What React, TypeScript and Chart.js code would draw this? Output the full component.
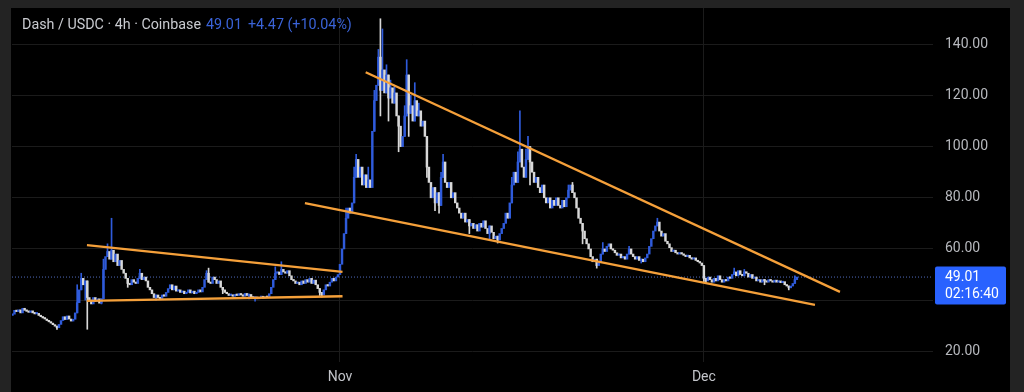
import React, { useEffect, useRef } from "react";
import { Chart, registerables } from "chart.js";

Chart.register(...registerables);

// ---- text ----
const symbolTitle = "Dash / USDC · 4h · Coinbase";
const lastPriceText = "49.01";
const changeText = "+4.47 (+10.04%)";
const countdownText = "02:16:40";
const lastPrice = 49.01;

// ---- time base: days counted from Oct 1 00:00 ----
const startDay = 4; // first 4h candle: Oct 5 00:00
const candlesPerDay = 6;
const firstOpen = 34.0;

// 4h closes, one row per day
const closes = [
  34.5, 36.0, 35.5, 36.2, 35.0, 36.8,
  36.0, 35.6, 35.2, 35.8, 35.0, 34.6,
  34.8, 34.0, 33.5, 33.0, 32.6, 32.0,
  31.5, 31.0, 30.4, 29.8, 29.2, 30.5,
  32.0, 33.5, 32.4, 33.8, 32.6, 31.8,
  32.5, 35.0, 39.0, 44.0, 48.5, 46.0,
  47.5, 41.0, 40.0, 38.5, 41.0, 39.5,
  40.5, 38.8, 40.5, 52.0, 57.0, 59.0,
  56.0, 59.5, 55.0, 58.0, 53.5, 55.5,
  52.0, 50.5, 48.5, 46.5, 46.0, 48.0,
  47.0, 46.5, 48.5, 50.5, 48.0, 49.0,
  47.5, 45.0, 44.0, 42.5, 41.0, 42.0,
  41.0, 40.5, 42.0, 41.5, 43.0, 44.5,
  46.0, 44.0, 45.5, 43.5, 44.0, 43.0,
  43.5, 42.5, 43.0, 44.0, 42.8, 43.5,
  42.5, 43.0, 44.0, 43.2, 45.0, 48.0,
  50.5, 47.0, 46.5, 49.0, 48.0, 46.5,
  47.5, 45.0, 44.0, 43.0, 42.5, 41.8,
  42.0, 41.5, 42.2, 41.8, 42.5, 42.0,
  41.5, 42.6, 41.8, 42.2, 41.0, 40.8,
  41.2, 40.5, 41.0, 41.5, 40.8, 41.2,
  41.0, 42.5, 45.0, 48.0, 50.5, 51.0,
  50.0, 52.0, 51.0, 50.5, 51.5, 49.5,
  48.0, 47.5, 46.5, 47.0, 46.0, 47.5,
  46.5, 48.0, 47.0, 48.5, 46.5, 47.8,
  46.0, 44.5, 43.0, 42.0, 44.0, 46.0,
  45.5, 47.0, 48.5, 47.5, 49.0, 50.0,
  54.0, 60.0, 66.0, 72.0, 76.0, 74.0,
  78.0, 88.0, 95.0, 88.0, 92.0, 85.0,
  89.0, 84.0, 87.0, 84.0, 106.0, 118.0,
  124.0, 135.0, 122.0, 130.0, 121.0, 128.0,
  119.0, 123.0, 117.0, 121.0, 112.0, 108.0,
  100.0, 104.0, 112.0, 128.0, 113.0, 116.0,
  110.0, 118.0, 112.0, 114.0, 108.0, 110.0,
  104.0, 92.0, 86.0, 80.0, 84.0, 78.0,
  82.0, 77.0, 88.0, 94.0, 86.0, 84.0,
  86.0, 80.0, 82.0, 78.0, 76.0, 74.0,
  72.0, 74.0, 70.5, 71.5, 69.0, 70.0,
  68.0, 69.5, 67.0, 70.0, 68.5, 71.0,
  68.0, 66.0, 69.0, 66.5, 64.0, 65.0,
  63.5, 66.0, 68.0, 70.0, 74.0, 72.0,
  78.0, 85.0, 90.0, 86.0, 94.0, 99.0,
  92.0, 88.0, 95.0, 100.0, 94.0, 90.0,
  86.0, 88.0, 84.0, 82.0, 85.0, 80.0,
  78.0, 80.0, 76.0, 79.0, 77.0, 80.0,
  77.0, 76.0, 79.0, 76.5, 80.0, 83.0,
  85.0, 82.0, 80.0, 76.0, 72.0, 70.0,
  67.0, 64.0, 62.0, 60.0, 57.0, 55.0,
  56.0, 53.5, 55.0, 58.0, 60.0, 59.0,
  61.0, 62.0, 60.0, 59.5, 58.5, 57.5,
  58.0, 56.5, 57.0, 56.0, 58.0, 60.0,
  58.0, 57.0, 56.0, 57.0, 55.5, 56.0,
  55.0, 56.5, 58.0, 61.0, 64.0, 67.0,
  69.0, 70.5, 67.0, 65.0, 66.0, 63.0,
  62.0, 60.5, 59.0, 59.5, 58.5, 58.0,
  58.5, 58.0, 57.5, 57.0, 57.5, 56.5,
  56.0, 56.5, 55.5, 55.0, 54.5, 53.5,
  48.5, 47.5, 49.0, 48.0, 47.0, 48.5,
  47.5, 49.5, 48.0, 47.0, 48.0, 47.5,
  49.0, 48.5, 50.0, 51.0, 49.5, 51.5,
  50.0, 49.5, 51.0, 50.5, 49.0, 50.0,
  48.5, 49.0, 47.5, 48.0, 47.0, 48.0,
  47.5, 47.0, 48.0, 47.5, 47.0, 47.8,
  47.0, 47.5, 46.8, 47.2, 46.0, 45.5,
  44.8, 45.5, 46.5, 48.0, 49.01,
];

// visible wick extremes: [candle index, price]
const spikeHighs: [number, number][] = [
  [32, 46], [34, 50.5], [45, 56], [47, 62], [49, 72], [63, 52], [96, 51.5],
  [97, 52.5], [130, 53], [133, 55], [165, 76], [169, 92], [170, 97], [176, 92],
  [179, 122], [181, 138], [182, 150], [183, 146], [185, 132], [187, 126], [189, 124],
  [194, 116], [195, 134], [197, 120], [199, 125], [201, 117], [212, 90], [213, 97],
  [247, 88], [250, 98], [251, 114], [254, 99], [255, 104], [275, 85], [277, 86],
  [292, 62.5], [305, 61], [319, 72], [357, 52.5], [362, 52], [387, 49.5],
];
const spikeLows: [number, number][] = [
  [22, 28.5], [36, 40], [37, 28.6], [44, 38.5], [57, 45], [71, 40], [104, 42.5],
  [117, 40.5], [120, 39.6], [152, 41.8], [153, 41.2], [182, 112], [186, 110],
  [191, 98], [196, 104], [205, 88], [209, 75], [211, 74], [226, 66], [236, 63.5],
  [240, 62.3], [256, 85], [282, 62], [289, 52.5], [290, 54], [311, 54.5],
  [342, 47], [343, 46.5], [372, 46], [384, 44.0],
];

// trend lines: [day, price] pairs
const rangeUpper = [[10.14, 61.5], [31.21, 51.0]];
const rangeLower = [[10.14, 39.7], [31.21, 41.5]];
const wedgeUpper = [[33.12, 129.1], [72.22, 43.2]];
const wedgeLower = [[28.11, 77.9], [70.16, 38.1]];

// axes
const priceTicks = [20, 40, 60, 80, 100, 120, 140];
const monthTickDays = [31, 61];
const monthTickLabels = ["Nov", "Dec"];
const xMin = 3.96;
const xMax = 79.89;
const yMin = 15.8;
const yMax = 154.2;

const UP = "#2f5bdb";
const DOWN = "#d8d8d8";
const ORANGE = "#f5a03a";
const FONT = "Roboto, 'Noto Sans', sans-serif";

export default function App() {
  const ref = useRef<HTMLCanvasElement>(null);

  useEffect(() => {
    const opens = closes.map((c, i) => (i === 0 ? firstOpen : closes[i - 1]));
    const dayOf = (i: number) => startDay + i / candlesPerDay;
    const up = closes.map((c, i) => c >= opens[i]);

    const bodies = closes.map((c, i) => ({ x: dayOf(i), y: [opens[i], c] }));
    const bodyColors = up.map((u) => (u ? UP : DOWN));

    const wickMap = new Map<number, [number, number]>();
    spikeHighs.forEach(([i, h]) => {
      const cur = wickMap.get(i);
      wickMap.set(i, [cur ? cur[0] : Math.min(opens[i], closes[i]), h]);
    });
    spikeLows.forEach(([i, l]) => {
      const cur = wickMap.get(i);
      wickMap.set(i, [l, cur ? cur[1] : Math.max(opens[i], closes[i])]);
    });
    const wickIdx = Array.from(wickMap.keys());
    const wicks = wickIdx.map((i) => ({ x: dayOf(i), y: wickMap.get(i) }));
    const wickColors = wickIdx.map((i) => (up[i] ? UP : DOWN));

    const toPts = (arr: number[][]) => arr.map(([x, y]) => ({ x, y }));
    const lineDs = (arr: number[][]) => ({
      type: "line" as const,
      data: toPts(arr),
      borderColor: ORANGE,
      borderWidth: 2.3,
      pointRadius: 0,
      order: 0,
    });

    const priceTag = {
      id: "priceTag",
      afterDraw(chart: any) {
        const { ctx } = chart;
        const y = chart.scales.y.getPixelForValue(lastPrice);
        const x0 = chart.chartArea.right + 2;
        ctx.save();
        ctx.fillStyle = "#2962ff";
        ctx.beginPath();
        if (ctx.roundRect) ctx.roundRect(x0, y - 10.5, 71, 38, 2);
        else ctx.rect(x0, y - 10.5, 71, 38);
        ctx.fill();
        ctx.fillStyle = "#ffffff";
        ctx.font = `14px ${FONT}`;
        ctx.textBaseline = "middle";
        ctx.textAlign = "left";
        ctx.fillText(lastPriceText, x0 + 10, y + 0.5);
        ctx.fillText(countdownText, x0 + 10, y + 17);
        ctx.restore();
      },
    };

    const chart = new Chart(ref.current as HTMLCanvasElement, {
      type: "bar",
      data: {
        datasets: [
          lineDs(rangeUpper),
          lineDs(rangeLower),
          lineDs(wedgeUpper),
          lineDs(wedgeLower),
          {
            type: "bar",
            data: bodies as any,
            backgroundColor: bodyColors,
            barThickness: 1.8,
            minBarLength: 1.5,
            grouped: false,
            order: 1,
          },
          {
            type: "bar",
            data: wicks as any,
            backgroundColor: wickColors,
            barThickness: 1,
            grouped: false,
            order: 2,
          },
          {
            type: "line",
            data: toPts([[xMin, lastPrice], [xMax, lastPrice]]),
            borderColor: "rgba(90,120,210,0.9)",
            borderWidth: 1,
            borderDash: [1, 2],
            pointRadius: 0,
            order: 3,
          },
        ] as any,
      },
      options: {
        animation: false,
        responsive: false,
        events: [],
        layout: { padding: 0 },
        plugins: { legend: { display: false }, tooltip: { enabled: false } },
        scales: {
          x: {
            type: "linear",
            min: xMin,
            max: xMax,
            offset: false,
            border: { display: false },
            grid: { color: "#1b1b1b", drawTicks: false, offset: false },
            ticks: {
              color: "#c2c4c9",
              font: { family: FONT, size: 14 },
              padding: 7,
              maxRotation: 0,
              autoSkip: false,
              callback: (v: any) => {
                const k = monthTickDays.indexOf(Number(v));
                return k >= 0 ? monthTickLabels[k] : "";
              },
            },
            afterBuildTicks: (s: any) => {
              s.ticks = monthTickDays.map((v) => ({ value: v }));
            },
            afterFit: (s: any) => {
              s.height = 30;
              s.paddingLeft = 0;
              s.paddingRight = 0;
            },
          },
          y: {
            type: "linear",
            position: "right",
            min: yMin,
            max: yMax,
            border: { display: false },
            grid: { color: "#1b1b1b", drawTicks: false },
            ticks: {
              color: "#b6b8bd",
              font: { family: FONT, size: 14 },
              padding: 12,
              callback: (v: any) => Number(v).toFixed(2),
            },
            afterBuildTicks: (s: any) => {
              s.ticks = priceTicks.map((v) => ({ value: v }));
            },
            afterFit: (s: any) => {
              s.width = 77;
              s.paddingTop = 0;
              s.paddingBottom = 0;
            },
          },
        },
      } as any,
      plugins: [priceTag],
    });

    return () => chart.destroy();
  }, []);

  return (
    <div
      style={{
        position: "fixed",
        left: 0,
        top: 0,
        width: 1024,
        height: 392,
        background: "#232323",
        overflow: "hidden",
      }}
    >
      <div
        style={{
          position: "absolute",
          left: 11,
          top: 8,
          width: 999,
          height: 384,
          background: "#000",
        }}
      >
        <canvas
          ref={ref}
          width={998}
          height={384}
          style={{ position: "absolute", left: 1, top: 0, width: 998, height: 384 }}
        />
      </div>
      <div
        style={{
          position: "absolute",
          left: 22,
          top: 14,
          fontFamily: FONT,
          fontSize: 14.3,
          lineHeight: "20px",
          color: "#c9cbd0",
          whiteSpace: "nowrap",
        }}
      >
        <span>{symbolTitle}</span>
        <span style={{ color: "#3a63d8", marginLeft: 5 }}>{lastPriceText}</span>
        <span style={{ color: "#3a63d8", marginLeft: 6 }}>{changeText}</span>
      </div>
    </div>
  );
}
